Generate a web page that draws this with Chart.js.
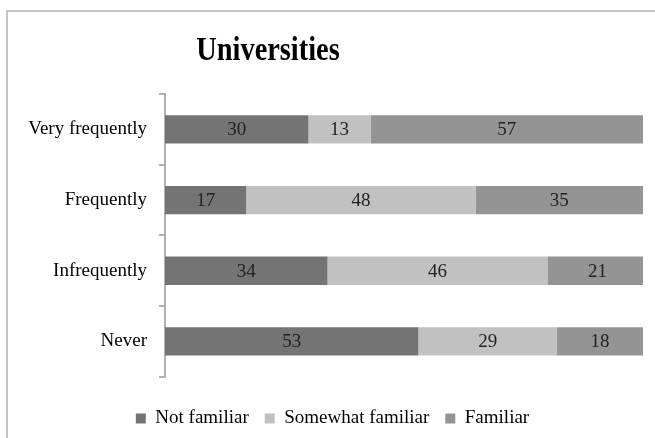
<!DOCTYPE html>
<html lang="en">
<head>
<meta charset="UTF-8">
<title>Universities</title>
<script src="https://cdn.jsdelivr.net/npm/chart.js"></script>
<style>
    body { margin: 0; background: #fff; overflow: hidden; }
    .wrap { position: relative; width: 655px; height: 438px; overflow: hidden; }
    .frame {
        position: absolute; left: 6px; top: 10px; width: 670px; height: 450px;
        border: 2px solid #c3c3c3; box-sizing: border-box; pointer-events: none;
    }
</style>
</head>
<body>
<div class="wrap">
    <canvas id="chart" width="655" height="438"></canvas>
    <div class="frame"></div>
</div>
<script>
    const categories = ['Very frequently', 'Frequently', 'Infrequently', 'Never'];
    const notFamiliar = [30, 17, 34, 53];
    const somewhatFamiliar = [13, 48, 46, 29];
    const familiar = [57, 35, 21, 18];

    const serif = '"Liberation Serif", serif';

    // title sits left of centre in the original, so draw it by hand
    // (narrowed a bit to look like the condensed bold face of the source)
    const titlePlugin = {
        id: 'sideTitle',
        afterDraw(chart) {
            const ctx = chart.ctx;
            ctx.save();
            ctx.translate(268, 51);
            ctx.scale(0.86, 1);
            ctx.font = 'bold 33px ' + serif;
            ctx.fillStyle = '#000';
            ctx.textAlign = 'center';
            ctx.textBaseline = 'middle';
            ctx.fillText('Universities', 0, 0);
            ctx.restore();
        }
    };

    const valueLabels = {
        id: 'valueLabels',
        afterDatasetsDraw(chart) {
            const ctx = chart.ctx;
            ctx.save();
            ctx.font = '19px ' + serif;
            ctx.fillStyle = '#222';
            ctx.textAlign = 'center';
            ctx.textBaseline = 'middle';
            chart.data.datasets.forEach((ds, i) => {
                chart.getDatasetMeta(i).data.forEach((bar, j) => {
                    ctx.fillText(ds.data[j], (bar.x + bar.base) / 2, bar.y + 1);
                });
            });
            ctx.restore();
        }
    };

    new Chart(document.getElementById('chart'), {
        type: 'bar',
        data: {
            labels: categories,
            datasets: [
                { label: 'Not familiar', data: notFamiliar, backgroundColor: '#747474' },
                { label: 'Somewhat familiar', data: somewhatFamiliar, backgroundColor: '#c1c1c1' },
                { label: 'Familiar', data: familiar, backgroundColor: '#949494' }
            ]
        },
        options: {
            indexAxis: 'y',
            responsive: false,
            animation: false,
            events: [],
            datasets: { bar: { barPercentage: 0.4, categoryPercentage: 1 } },
            layout: { padding: { top: 94, left: 22, right: 12, bottom: 0 } },
            scales: {
                x: { stacked: true, min: 0, max: 100, display: false },
                y: {
                    stacked: true,
                    grid: { drawOnChartArea: false, offset: true, tickLength: 6, color: '#b0b0b0', lineWidth: 2 },
                    border: { color: '#b0b0b0', width: 2 },
                    ticks: { color: '#000', padding: 12, font: { family: serif, size: 19 } },
                    afterFit(s) { s.width = 143; }
                }
            },
            plugins: {
                legend: {
                    position: 'bottom',
                    title: { display: true, text: ' ', font: { size: 1 }, padding: { top: 0, bottom: 15 } },
                    labels: {
                        boxWidth: 10, boxHeight: 10, padding: 16, color: '#000',
                        font: { family: serif, size: 19 }
                    }
                },
                tooltip: { enabled: false }
            }
        },
        plugins: [titlePlugin, valueLabels]
    });
</script>
</body>
</html>
